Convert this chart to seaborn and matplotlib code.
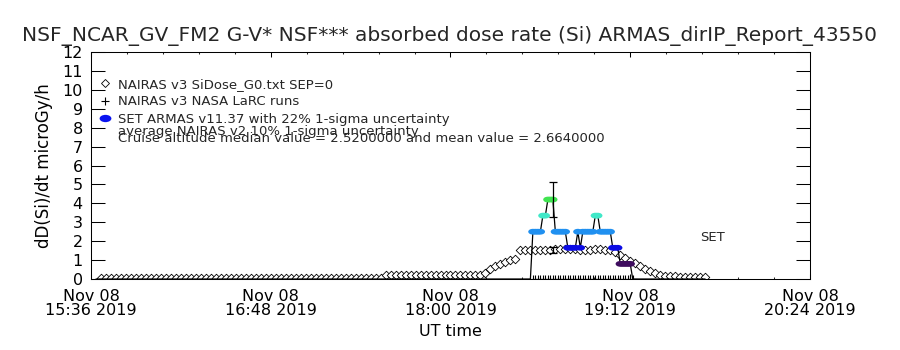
import numpy as np
import pandas as pd
import matplotlib
matplotlib.use("Agg")
import matplotlib.pyplot as plt
import matplotlib.dates as mdates
from matplotlib.path import Path
from matplotlib.lines import Line2D
import seaborn as sns

# ---------------- data ----------------
DAY = "2019-11-08 "
x_limits = ["15:36", "20:24"]
major_tick_times = ["15:36", "16:48", "18:00", "19:12", "20:24"]
y_ticks = list(range(0, 13))

title = "NSF_NCAR_GV_FM2 G-V* NSF*** absorbed dose rate (Si) ARMAS_dirIP_Report_43550"
y_label = "dD(Si)/dt microGy/h"
x_label = "UT time"

# NAIRAS v3 SiDose_G0 (diamonds): 2-minute samples starting 15:40
nairas_start = "15:40"
nairas_values = [
    0.05, 0.05, 0.05, 0.05, 0.05, 0.05, 0.05, 0.05, 0.05, 0.05,
    0.05, 0.05, 0.05, 0.05, 0.05, 0.05, 0.05, 0.05, 0.05, 0.05,
    0.05, 0.05, 0.05, 0.05, 0.05, 0.05, 0.05, 0.05, 0.05, 0.05,
    0.05, 0.05, 0.05, 0.05, 0.05, 0.05, 0.05, 0.05, 0.05, 0.05,
    0.05, 0.05, 0.05, 0.05, 0.05, 0.05, 0.05, 0.05, 0.05, 0.05,
    0.05, 0.05, 0.05, 0.05, 0.05, 0.05, 0.05,
    0.22, 0.22, 0.22, 0.22, 0.22, 0.22, 0.22, 0.22, 0.22, 0.22,
    0.22, 0.22, 0.22, 0.22, 0.22, 0.22, 0.22, 0.22, 0.22, 0.22,
    0.3, 0.55, 0.7, 0.8, 0.9, 1.0, 1.05,
    1.55, 1.55, 1.55, 1.55, 1.55, 1.55, 1.55, 1.6, 1.6, 1.6,
    1.6, 1.6, 1.55, 1.55, 1.55, 1.6, 1.6, 1.55, 1.55,
    1.45, 1.25, 1.1, 0.95, 0.85, 0.7, 0.55, 0.4, 0.3, 0.2, 0.17,
    0.15, 0.15, 0.12, 0.12, 0.1, 0.1, 0.1, 0.1,
]

# SET ARMAS v11.37
armas_times = [
    "15:38", "18:32", "18:33", "18:34", "18:35", "18:36", "18:37", "18:38",
    "18:39", "18:40", "18:41", "18:42", "18:43", "18:44", "18:45", "18:46",
    "18:47", "18:48", "18:49", "18:50", "18:51", "18:52", "18:53", "18:54",
    "18:55", "18:56", "18:57", "18:58", "18:59", "19:00", "19:01", "19:02",
    "19:03", "19:04", "19:05", "19:06", "19:07", "19:08", "19:09", "19:10",
    "19:11", "19:12", "19:13", "19:42",
]
armas_values = [
    0.0, 0.0, 2.5, 2.5, 2.5, 2.5, 3.35, 3.35,
    4.2, 4.2, 4.2, 2.5, 2.5, 2.5, 2.5, 2.5,
    1.65, 1.65, 1.65, 1.65, 2.5, 1.65, 2.5, 2.5,
    2.5, 2.5, 2.5, 3.35, 3.35, 2.5, 2.5, 2.5,
    2.5, 2.5, 1.65, 1.65, 1.65, 0.8, 0.8, 0.8,
    0.8, 0.8, 0.0, 0.0,
]

# NAIRAS v3 NASA LaRC runs (+): 1-minute samples starting 18:33
larc_start = "18:33"
larc_values = [
    0.0, 0.0, 0.0, 0.0, 0.0, 0.0, 0.0, 0.0, 0.0, 0.0,
    0.0, 0.0, 0.0, 0.0, 0.0, 0.0, 0.0, 0.0, 0.0, 0.0,
    0.0, 0.0, 0.0, 0.0, 0.0, 0.0, 0.0, 0.0, 0.0, 0.0,
    0.0, 0.0, 0.0, 0.0, 0.0, 0.0, 0.0, 0.0, 0.0, 0.0,
    0.0,
]

# uncertainty bars (ARMAS 22 %, NAIRAS 10 %)
err_times = ["18:41", "18:41"]
err_values = [4.2, 1.55]
err_fractions = [0.22, 0.10]

level_colors = {
    "0.80": "#3e0c5e",
    "1.65": "#0c0ce4",
    "2.50": "#2090f0",
    "3.35": "#40e8c8",
    "4.20": "#40e450",
}

legend_labels = [
    "NAIRAS v3 SiDose_G0.txt SEP=0",
    "NAIRAS v3 NASA LaRC runs",
    "SET ARMAS v11.37 with 22% 1-sigma uncertainty",
]
note_lines = [
    "average NAIRAS v2 10% 1-sigma uncertainty",
    "Cruise altitude median value = 2.5200000 and mean value = 2.6640000",
]
set_label = ("19:40", 2.2, "SET")

# ---------------- frames ----------------
nairas_df = pd.DataFrame({
    "time": pd.date_range(DAY + nairas_start, periods=len(nairas_values), freq="2min"),
    "value": nairas_values,
})
armas_df = pd.DataFrame({
    "time": pd.to_datetime([DAY + t for t in armas_times]),
    "value": armas_values,
})
armas_df["level"] = [f"{v:.2f}" for v in armas_df["value"]]
larc_df = pd.DataFrame({
    "time": pd.date_range(DAY + larc_start, periods=len(larc_values), freq="1min"),
    "value": larc_values,
})

# ---------------- style ----------------
sns.set_theme(style="white")
plt.rcParams["font.family"] = ["DejaVu Sans"]
plt.rcParams["axes.edgecolor"] = "black"
plt.rcParams["axes.linewidth"] = 0.75

fig = plt.figure(figsize=(9, 3.5), dpi=100)
W, H = 900, 350
ax = fig.add_axes([91 / W, 1 - 279 / H, 719 / W, 227 / H])

circ = Path.unit_circle()
ellipse = Path(circ.vertices * np.array([1.0, 0.62]), circ.codes)

# diamonds
sns.scatterplot(data=nairas_df, x="time", y="value", marker="D", s=19,
                color="white", edgecolor="black", linewidth=0.6, ax=ax,
                zorder=2, legend=False)
# LaRC plus signs
ax.scatter(larc_df["time"], larc_df["value"], marker="+", s=30,
           color="black", linewidths=0.8, zorder=2)
# ARMAS line
sns.lineplot(data=armas_df, x="time", y="value", estimator=None, sort=False,
             color="black", linewidth=0.9, ax=ax, zorder=3)
# ARMAS coloured points
sns.scatterplot(data=armas_df[armas_df["value"] > 0], x="time", y="value",
                hue="level", palette=level_colors, marker=ellipse, s=45,
                linewidth=0, ax=ax, zorder=4, legend=False)
# uncertainty bars
err_dt = pd.to_datetime([DAY + t for t in err_times])
ax.errorbar(err_dt, err_values,
            yerr=[v * f for v, f in zip(err_values, err_fractions)],
            fmt="none", ecolor="black", elinewidth=0.9, capsize=2.6,
            capthick=0.9, zorder=5)

# ---------------- axes ----------------
ax.set_xlim(pd.Timestamp(DAY + x_limits[0]), pd.Timestamp(DAY + x_limits[1]))
ax.set_ylim(0, 12)
ax.set_yticks(y_ticks)
ax.set_yticklabels([str(v) for v in y_ticks])
ax.set_xticks(pd.to_datetime([DAY + t for t in major_tick_times]))
ax.set_xticks(pd.date_range(DAY + x_limits[0], DAY + x_limits[1], freq="864s"),
              minor=True)
ax.xaxis.set_major_formatter(mdates.DateFormatter("%b %d\n%H:%M %Y"))

ax.tick_params(axis="y", which="major", direction="in", length=10,
               width=0.75, left=True, right=True, labelsize=11.5, pad=6,
               colors="black")
ax.tick_params(axis="x", which="major", direction="in", length=3.3,
               width=0.75, top=True, bottom=True, labelsize=11.5, pad=7,
               colors="black")
ax.tick_params(axis="x", which="minor", direction="in", length=1.7,
               width=0.75, top=True, bottom=True)
for lab in ax.get_xticklabels():
    lab.set_linespacing(0.95)

ax.set_xlabel(x_label, fontsize=11.5, color="black")
ax.xaxis.set_label_coords(0.5, -0.2)
ax.set_ylabel(y_label, fontsize=12, color="black")
ax.yaxis.set_label_coords(-0.053, 0.5)
ax.grid(False)

fig.text(0.5, 1 - 36 / H, title, ha="center", va="center", fontsize=14.5)

# legend
handles = [
    Line2D([], [], marker="D", ls="none", mfc="white", mec="black", ms=4.2, mew=0.6),
    Line2D([], [], marker="+", ls="none", color="black", ms=6, mew=0.8),
    Line2D([], [], marker=ellipse, ls="none", color="#0a14f0", ms=8.5, mew=0),
]
ax.legend(handles, legend_labels, loc="upper left", bbox_to_anchor=(0.0125, 0.886),
          frameon=False, fontsize=9.5, handlelength=0.8, handletextpad=0.6,
          labelspacing=0.34, borderpad=0, borderaxespad=0)
ax.text(0.0376, (279 - 132) / 227, note_lines[0], transform=ax.transAxes,
        va="center", ha="left", fontsize=9.5)
ax.text(0.0376, (279 - 139) / 227, note_lines[1], transform=ax.transAxes,
        va="center", ha="left", fontsize=9.5)

ax.text(pd.Timestamp(DAY + set_label[0]), set_label[1], set_label[2],
        fontsize=9.5, va="center", ha="left")

fig.savefig("out.png", dpi=100, facecolor="white")
